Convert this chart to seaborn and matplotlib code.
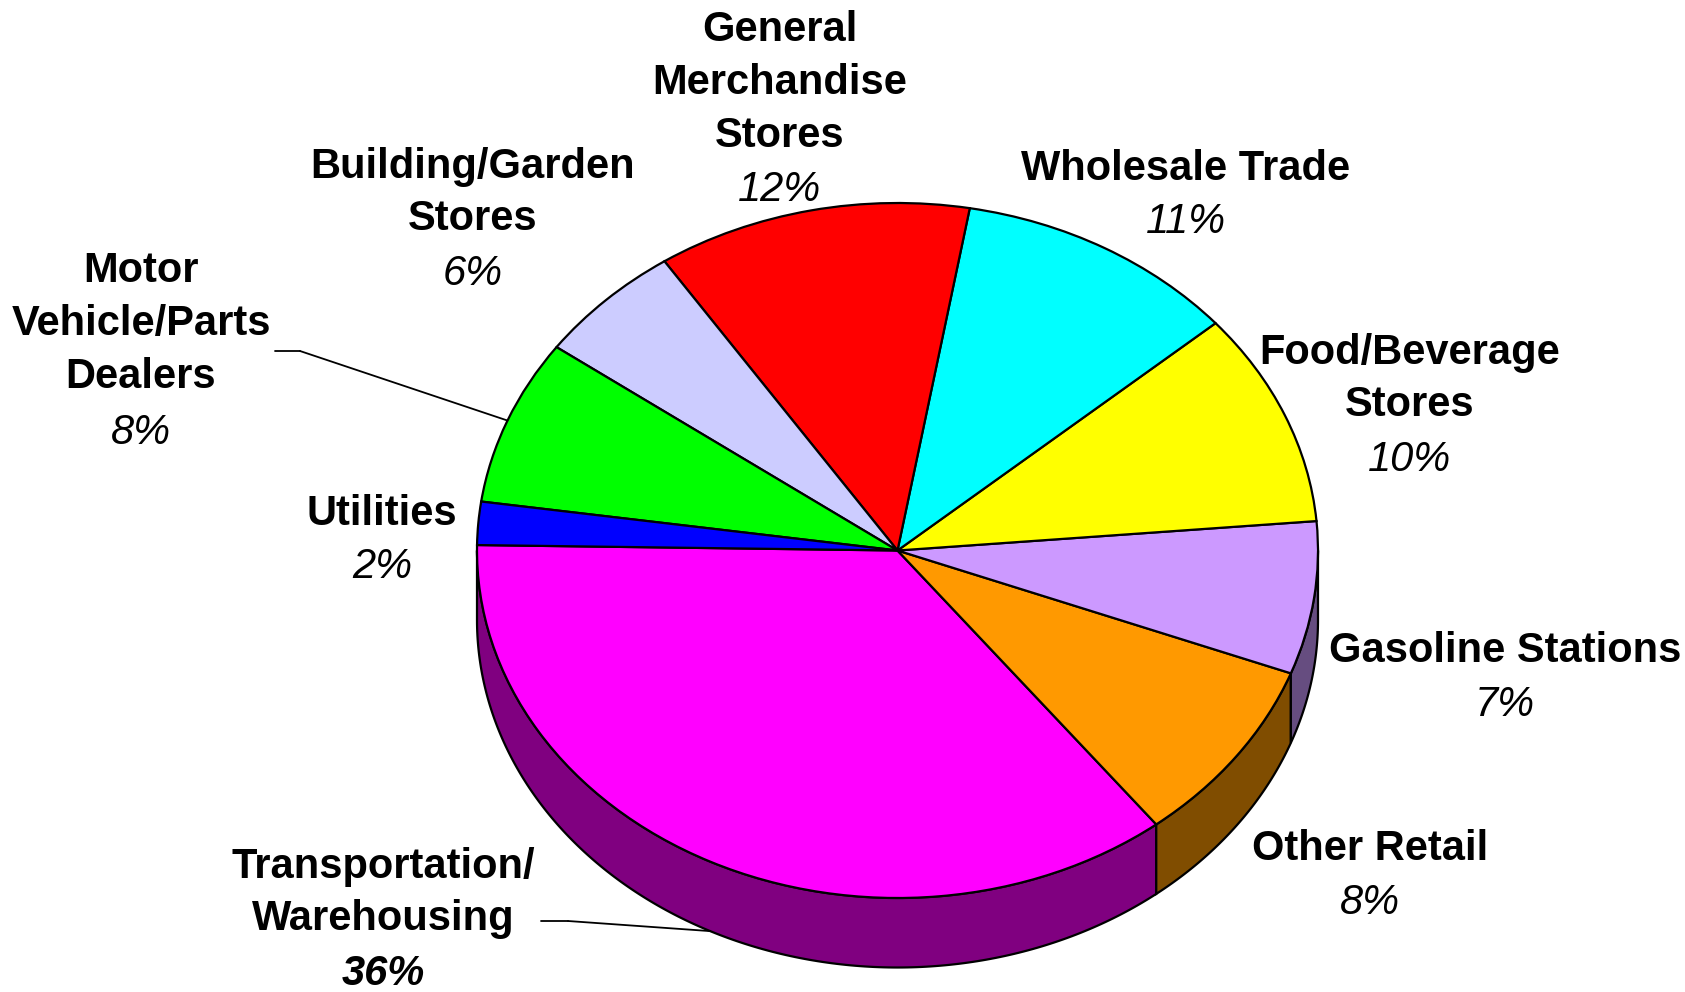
import numpy as np
import matplotlib
matplotlib.use('Agg')
import matplotlib.pyplot as plt
import matplotlib.colors as mcolors
from matplotlib.patches import Polygon
import seaborn as sns

# --- Dados (ordem anti-horária, começando às 9h) ---
categorias = ['Transportation/\nWarehousing', 'Other Retail', 'Gasoline Stations',
              'Food/Beverage\nStores', 'Wholesale Trade', 'General\nMerchandise\nStores',
              'Building/Garden\nStores', 'Motor\nVehicle/Parts\nDealers', 'Utilities']
participacao = [35.8, 8.7, 7.1, 10.0, 10.9, 12.1, 5.7, 7.7, 2.0]
rotulos_pct = ['36%', '8%', '7%', '10%', '11%', '12%', '6%', '8%', '2%']
cores = ['#FF00FF', '#FF9900', '#CC99FF', '#FFFF00', '#00FFFF',
         '#FF0000', '#CCCCFF', '#00FF00', '#0000FF']

# posições dos rótulos em pixels (x centro, y centro do nome, y centro do %)
pos_rotulos = [(383, 893, 974), (1370, 849, 903), (1505, 651, 705),
               (1410, 379, 460), (1186, 169, 222), (780, 83, 190),
               (473, 193, 274), (141, 324, 433), (382, 514, 567)]

W, H = 1685, 992
CX, CY, RX, RY = 897.5, 550.5, 420.5, 347.5   # centro/raios da elipse em pixels
PROF = 0.2                                     # profundidade do "3D" (unid. de RY)

sns.set_theme(style='white')
plt.rcParams['font.family'] = ['Liberation Sans', 'DejaVu Sans']
plt.rcParams['text.color'] = 'black'

fig = plt.figure(figsize=(W / 100, H / 100), dpi=100)
ax = fig.add_axes([0, 0, 1, 1])

wedges, _ = ax.pie(participacao, colors=cores, startangle=179.1, counterclock=True,
                   radius=1, wedgeprops=dict(edgecolor='black', linewidth=1.6, zorder=3))

# --- Paredes laterais (parte frontal visível, 180°..360°) ---
for w, c in zip(wedges, cores):
    escura = tuple(np.array(mcolors.to_rgb(c)) * 0.5)
    for off in (0, 360):
        lo, hi = max(w.theta1 - off, 180), min(w.theta2 - off, 360)
        if hi <= lo:
            continue
        t = np.radians(np.linspace(lo, hi, 200))
        topo = np.column_stack([np.cos(t), np.sin(t)])
        base = np.column_stack([np.cos(t), np.sin(t) - PROF])[::-1]
        ax.add_patch(Polygon(np.vstack([topo, base]), closed=True, facecolor=escura,
                             edgecolor='black', linewidth=1.6, zorder=1))

ax.set_aspect('auto')
ax.set_xlim(-CX / RX, (W - CX) / RX)
ax.set_ylim((CY - H) / RY, CY / RY)
ax.axis('off')

# --- Rótulos ---
for i, (nome, pct, (x, yn, yp)) in enumerate(zip(categorias, rotulos_pct, pos_rotulos)):
    fig.text(x / W, 1 - yn / H, nome, ha='center', va='center', fontsize=30,
             fontweight='bold', linespacing=1.41, color='black')
    fig.text(x / W, 1 - yp / H, pct, ha='center', va='center', fontsize=30,
             fontstyle='italic', fontweight='bold' if i == 0 else 'normal', color='black')


# --- Linhas de chamada ---
def linha_chamada(w, inicio, cotovelo, desce):
    m = np.radians((w.theta1 + w.theta2) / 2)
    alvo = (np.cos(m), np.sin(m) - desce)
    estilo = dict(arrowstyle='-', color='black', lw=1.3, shrinkA=0, shrinkB=0)
    ax.annotate('', xy=(cotovelo[0], H - cotovelo[1]), xycoords='figure pixels',
                xytext=(inicio[0], H - inicio[1]), textcoords='figure pixels',
                arrowprops=estilo)
    ax.annotate('', xy=alvo, xycoords='data',
                xytext=(cotovelo[0], H - cotovelo[1]), textcoords='figure pixels',
                arrowprops=estilo)


linha_chamada(wedges[7], (275, 351), (300, 351), 0)
linha_chamada(wedges[0], (541, 921), (568, 921), PROF)

plt.savefig('out.png', dpi=100)
plt.close()
